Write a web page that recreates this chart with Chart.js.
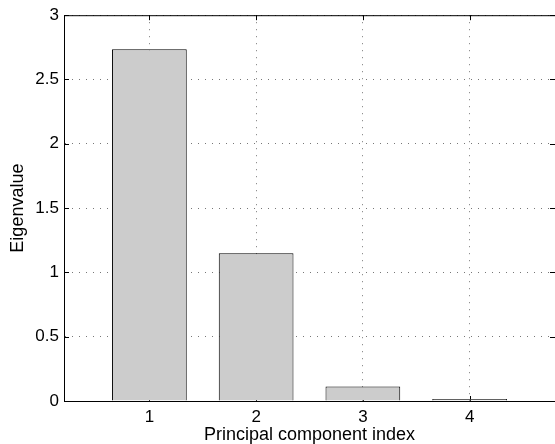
<!DOCTYPE html>
<html>
<head>
<meta charset="utf-8">
<script src="https://cdn.jsdelivr.net/npm/chart.js@4"></script>
<style>
  html, body { margin: 0; padding: 0; background: #fff; }
  #wrap { width: 555px; height: 444px; }
</style>
</head>
<body>
<div id="wrap"><canvas id="chart"></canvas></div>
<script>
const components = [1, 2, 3, 4];
const eigenvalues = [2.735, 1.148, 0.113, 0.015];
const xTicks = [1, 2, 3, 4];
const yTicks = [0, 0.5, 1, 1.5, 2, 2.5, 3];

const FONT = "'Liberation Sans', Arial, sans-serif";
const TICK_FS = 17;
const TITLE_FS = 18;

// matlab style box with inward ticks (right edge of the box falls just off the canvas)
const boxTicks = {
  id: "boxTicks",
  beforeDatasetsDraw(chart) {
    const { ctx, chartArea: a, scales } = chart;
    const len = 5;
    ctx.save();
    ctx.strokeStyle = "#000";
    ctx.lineWidth = 1;
    ctx.beginPath();
    xTicks.forEach(v => {
      const x = Math.round(scales.x.getPixelForValue(v)) + 0.5;
      ctx.moveTo(x, a.bottom); ctx.lineTo(x, a.bottom - len);
      ctx.moveTo(x, a.top); ctx.lineTo(x, a.top + len);
    });
    yTicks.forEach(v => {
      const y = Math.round(scales.y.getPixelForValue(v)) + 0.5;
      ctx.moveTo(a.left, y); ctx.lineTo(a.left + len, y);
      ctx.moveTo(a.right, y); ctx.lineTo(a.right - len, y);
    });
    ctx.moveTo(a.left, a.top + 0.5); ctx.lineTo(a.right, a.top + 0.5);
    ctx.stroke();
    ctx.restore();
  }
};

new Chart(document.getElementById("chart"), {
  type: "bar",
  data: {
    datasets: [{
      data: components.map((c, i) => ({ x: c, y: eigenvalues[i] })),
      backgroundColor: "#cccccc",
      borderColor: "#000",
      borderWidth: 1,
      barPercentage: 0.7,
      categoryPercentage: 1
    }]
  },
  options: {
    responsive: true,
    maintainAspectRatio: false,
    animation: false,
    layout: { padding: { top: 13, right: 0, left: 0, bottom: 0 } },
    plugins: { legend: { display: false }, tooltip: { enabled: false } },
    scales: {
      x: {
        type: "linear",
        offset: false,
        min: 0.2,
        max: 4.8,
        afterBuildTicks: s => { s.ticks = xTicks.map(v => ({ value: v })); },
        afterFit: s => { s.height = 43; },
        grid: { color: "#777", drawTicks: false, offset: false },
        border: { color: "#000", width: 1, dash: [1, 6] },
        ticks: { color: "#000", padding: 6, font: { family: FONT, size: TICK_FS } },
        title: {
          display: true, text: "Principal component index", color: "#000",
          font: { family: FONT, size: TITLE_FS }, padding: { top: 0, bottom: -2 }
        }
      },
      y: {
        min: 0,
        max: 3,
        afterBuildTicks: s => { s.ticks = yTicks.map(v => ({ value: v })); },
        afterFit: s => { s.width = 64; },
        grid: { color: "#777", drawTicks: false },
        border: { color: "#000", width: 1, dash: [1, 6] },
        ticks: {
          color: "#000", padding: 5, font: { family: FONT, size: TICK_FS },
          callback: v => String(v)
        },
        title: {
          display: true, text: "Eigenvalue", color: "#000",
          font: { family: FONT, size: TITLE_FS }, padding: { top: 7, bottom: 0 }
        }
      }
    }
  },
  plugins: [boxTicks]
});
</script>
</body>
</html>
